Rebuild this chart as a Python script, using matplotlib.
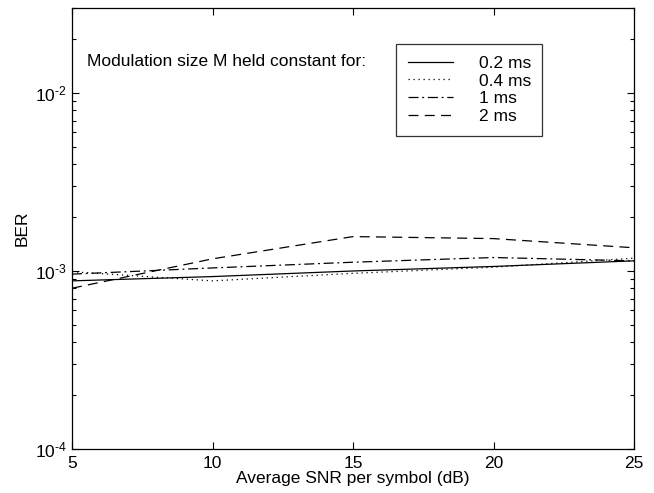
import matplotlib
matplotlib.use("Agg")
import matplotlib.pyplot as plt
from matplotlib.ticker import LogLocator, NullFormatter, FuncFormatter
import numpy as np

plt.rcParams['font.family'] = ['Liberation Sans', 'DejaVu Sans']
plt.rcParams['mathtext.fontset'] = 'custom'
plt.rcParams['mathtext.rm'] = 'Liberation Sans'
plt.rcParams['mathtext.default'] = 'regular'

snr = [5, 10, 15, 20, 25]
ber_02 = [8.8e-4, 9.3e-4, 1.0e-3, 1.06e-3, 1.14e-3]
ber_04 = [9.9e-4, 8.8e-4, 9.7e-4, 1.05e-3, 1.18e-3]
ber_1 = [9.6e-4, 1.04e-3, 1.12e-3, 1.19e-3, 1.14e-3]
ber_2 = [8.0e-4, 1.17e-3, 1.56e-3, 1.52e-3, 1.35e-3]
labels = ['0.2 ms', '0.4 ms', '1 ms', '2 ms']

FS = 12.5

fig = plt.figure(figsize=(6.54, 4.93), dpi=100)
ax = fig.add_axes([72/654, 1-449/493, 562/654, 441/493])

lw = 0.9
ax.plot(snr, ber_02, color='black', lw=lw, ls='-', label=labels[0])
ax.plot(snr, ber_04, color='black', lw=lw, ls=(0, (1, 3)), label=labels[1])
ax.plot(snr, ber_1, color='black', lw=lw, ls=(0, (8, 3, 1.5, 3)), label=labels[2])
ax.plot(snr, ber_2, color='black', lw=lw, ls=(0, (8, 5)), label=labels[3])

ax.set_yscale('log')
ax.set_xlim(5, 25)
ax.set_ylim(1e-4, 3e-2)
ax.set_xticks([5, 10, 15, 20, 25])
ax.yaxis.set_major_locator(LogLocator(base=10, numticks=10))
ax.yaxis.set_minor_locator(LogLocator(base=10, subs=range(2, 10), numticks=20))
ax.yaxis.set_minor_formatter(NullFormatter())
ax.yaxis.set_major_formatter(FuncFormatter(
    lambda v, p: r'$10^{\text{-%d}}$' % int(round(-np.log10(v)))))

ax.tick_params(which='both', direction='in', top=True, right=True, labelsize=FS)
ax.tick_params(which='major', length=5, width=0.8)
ax.tick_params(axis='x', pad=5)
ax.tick_params(which='minor', length=3, width=0.8)
for s in ax.spines.values():
    s.set_linewidth(0.9)

ax.set_xlabel('Average SNR per symbol (dB)', fontsize=FS, labelpad=0)
ax.set_ylabel('BER', fontsize=FS, labelpad=4)

leg = ax.legend(loc='upper left', bbox_to_anchor=(0.577, 0.918), fontsize=FS,
                frameon=True, fancybox=False, handlelength=2.6, handletextpad=1.5,
                labelspacing=0.16, borderpad=0.65, borderaxespad=0)
leg.get_frame().set_edgecolor('black')
leg.get_frame().set_linewidth(0.9)

fig.text(87/654, 1-62/493, 'Modulation size M held constant for:', fontsize=FS,
         va='center', ha='left')

fig.savefig('out.png', dpi=100)
